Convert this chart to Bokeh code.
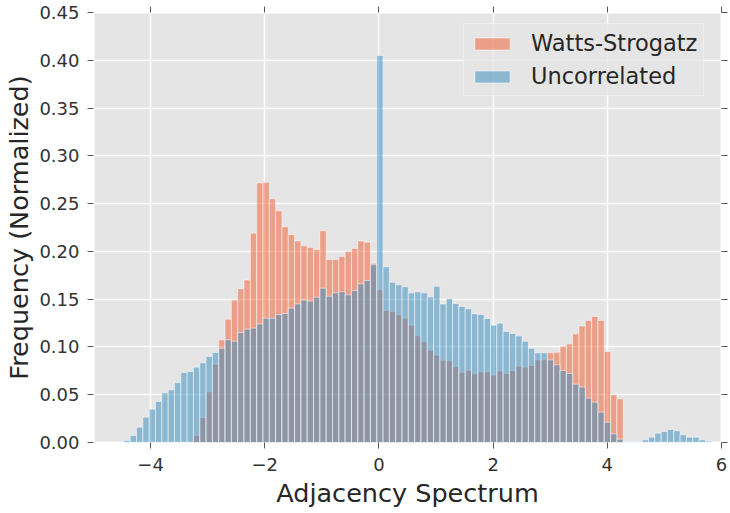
import numpy as np
from bokeh.plotting import figure
from bokeh.models import FixedTicker, ColumnDataSource, LinearAxis
from bokeh.embed import file_html
from bokeh.resources import INLINE

# ---- data ----
bin_start = -4.467
bin_width = 0.1107
n_bins = 93

uncorrelated = [
    0.0021, 0.0073, 0.016, 0.0265, 0.0349, 0.0429, 0.052, 0.0551, 0.0625, 0.0733,
    0.0743, 0.0788, 0.0834, 0.090, 0.0942, 0.0987, 0.1075, 0.106, 0.115, 0.1186,
    0.1197, 0.124, 0.130, 0.130, 0.134, 0.135, 0.1406, 0.145, 0.149, 0.148,
    0.152, 0.1615, 0.153, 0.1566, 0.1577, 0.1545, 0.159, 0.166, 0.1695, 0.186,
    0.405, 0.184, 0.1676, 0.165, 0.163, 0.1566, 0.1577, 0.1566, 0.1524, 0.1636,
    0.145, 0.1507, 0.1455, 0.1423, 0.140, 0.1346, 0.134, 0.1298, 0.1228, 0.1249,
    0.1162, 0.1141, 0.1116, 0.106, 0.0987, 0.094, 0.094, 0.0865, 0.0813, 0.0753,
    0.0722, 0.061, 0.058, 0.0464, 0.0422, 0.0317, 0.0212, 0.0091, 0.0035, 0.0008,
    0.0008, 0.0008, 0.0028, 0.0056, 0.0098, 0.0115, 0.0136, 0.0122, 0.008, 0.0056,
    0.0056, 0.0028, 0.0014,
]

watts_strogatz = [0.0] * 11 + [
    0.0073, 0.026, 0.053, 0.082, 0.1075, 0.129, 0.149, 0.161, 0.170, 0.219,
    0.2717, 0.2724, 0.255, 0.2425, 0.2257, 0.2177, 0.211, 0.2058, 0.204, 0.202,
    0.2215, 0.1915, 0.1915, 0.1946, 0.200, 0.203, 0.211, 0.2096, 0.1875, 0.160,
    0.138, 0.137, 0.134, 0.130, 0.1228, 0.1116, 0.1057, 0.0966, 0.0914, 0.0861,
    0.0855, 0.0795, 0.0733, 0.0753, 0.0719, 0.074, 0.074, 0.0705, 0.0747, 0.0722,
    0.0753, 0.0799, 0.0788, 0.0806, 0.0865, 0.0865, 0.094, 0.0945, 0.1008, 0.1033,
    0.1137, 0.122, 0.1277, 0.1319, 0.1277, 0.0952, 0.0499, 0.0457,
] + [0.0] * 14

x_ticks = [-4, -2, 0, 2, 4, 6]
x_tick_labels = ["\u22124", "\u22122", "0", "2", "4", "6"]
y_ticks = [0.0, 0.05, 0.10, 0.15, 0.20, 0.25, 0.30, 0.35, 0.40, 0.45]
y_tick_labels = ["0.00", "0.05", "0.10", "0.15", "0.20", "0.25", "0.30", "0.35", "0.40", "0.45"]

series_names = ["Watts-Strogatz", "Uncorrelated"]
series_colors = ["#F4592C", "#348ABD"]

# ---- build ----
edges = bin_start + bin_width * np.arange(n_bins + 1)
left = edges[:-1]
right = edges[1:]

FONT = "DejaVu Sans"
TICK_COLOR = "#555555"

p = figure(frame_width=628, frame_height=430, output_backend="svg", toolbar_location=None,
           x_range=(-5, 6), y_range=(0, 0.45),
           min_border_left=93, min_border_right=9, min_border_top=12, min_border_bottom=71,
           background_fill_color="#E5E5E5", border_fill_color="white",
           outline_line_color="white", outline_line_width=2)

for name, color, vals in zip(series_names, series_colors, [watts_strogatz, uncorrelated]):
    vals = np.array(vals)
    m = vals > 0
    src = ColumnDataSource(dict(left=left[m], right=right[m], top=vals[m], bottom=np.zeros(m.sum())))
    p.quad(left="left", right="right", top="top", bottom="bottom", source=src,
           fill_color=color, fill_alpha=0.5, line_color="white", line_alpha=0.5, line_width=1,
           legend_label=name)

p.xaxis.ticker = FixedTicker(ticks=x_ticks)
p.xaxis.major_label_overrides = {t: l for t, l in zip(x_ticks, x_tick_labels)}
p.yaxis.ticker = FixedTicker(ticks=y_ticks)
p.yaxis.major_label_overrides = {t: l for t, l in zip(y_ticks, y_tick_labels)}

for ax in (p.xaxis[0], p.yaxis[0]):
    ax.axis_line_color = None
    ax.major_tick_line_color = TICK_COLOR
    ax.major_tick_out = 6
    ax.major_tick_in = 0
    ax.minor_tick_line_color = None
    ax.major_label_text_font = FONT
    ax.major_label_text_font_size = "18px"
    ax.major_label_text_color = "#333333"
    ax.axis_label_text_font = FONT
    ax.axis_label_text_font_size = "25.5px"
    ax.axis_label_text_font_style = "normal"
    ax.axis_label_text_color = "#262626"

p.xaxis.axis_label = "Adjacency Spectrum"
p.yaxis.axis_label = "Frequency (Normalized)"
p.xaxis.major_label_standoff = 9
p.yaxis.major_label_standoff = 8
p.xaxis.axis_label_standoff = 4
p.yaxis.axis_label_standoff = 2

# tick marks only on top and right (as in the reference)
top_ax = LinearAxis(ticker=FixedTicker(ticks=x_ticks),
                    major_label_overrides={t: "" for t in x_ticks})
right_ax = LinearAxis(ticker=FixedTicker(ticks=y_ticks),
                      major_label_overrides={t: "" for t in y_ticks})
for ax in (top_ax, right_ax):
    ax.axis_line_color = None
    ax.major_tick_line_color = TICK_COLOR
    ax.major_tick_out = 6
    ax.major_tick_in = 0
    ax.minor_tick_line_color = None
    ax.major_label_text_font_size = "1px"
    ax.major_label_standoff = 0
    ax.axis_label_standoff = 0
p.add_layout(top_ax, "above")
p.add_layout(right_ax, "right")

p.grid.grid_line_color = "white"
p.grid.grid_line_width = 1.5
p.xgrid.ticker = FixedTicker(ticks=x_ticks)
p.ygrid.ticker = FixedTicker(ticks=y_ticks)

lg = p.legend[0]
lg.location = (370, 346)
lg.padding = 6
lg.spacing = 7
lg.glyph_width = 44
lg.glyph_height = 15
lg.label_standoff = 17
lg.label_text_font = FONT
lg.label_text_font_size = "22.5px"
lg.label_text_color = "#262626"
lg.background_fill_color = "#E5E5E5"
lg.background_fill_alpha = 0.8
lg.border_line_color = "#f7f7f7"
lg.border_line_width = 1.5

open("out.html", "w").write(file_html(p, INLINE))
